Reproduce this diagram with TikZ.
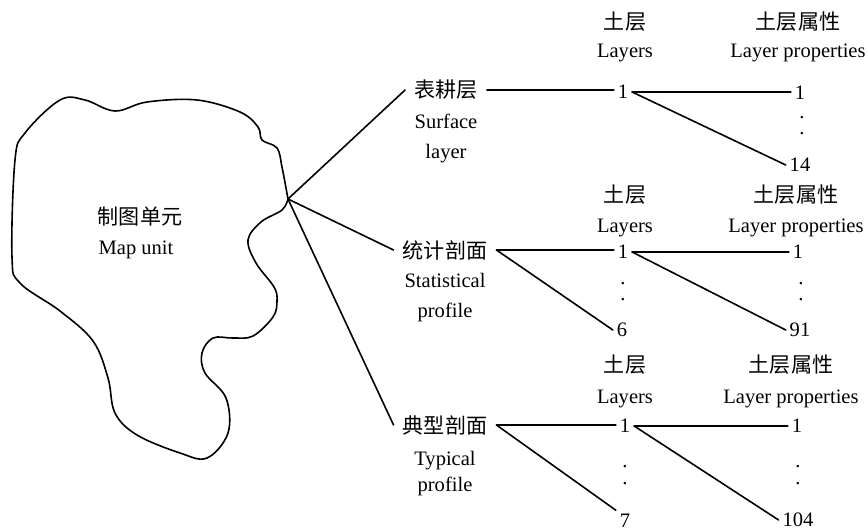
\documentclass[tikz,border=0pt]{standalone}
\usepackage{fontspec}
\setmainfont{Liberation Serif}
\newfontfamily\cjk{Noto Sans CJK SC}
\begin{document}
\begin{tikzpicture}[x=0.75pt,y=-0.75pt,
  lat/.style={font=\fontsize{15.4}{18}\selectfont, inner sep=0pt, anchor=base},
  zh/.style={font=\cjk\fontsize{15.8}{18}\selectfont, inner sep=0pt},
  cat/.style={zh, outer sep=7pt},
  num/.style={font=\fontsize{15.4}{18}\selectfont, inner sep=0pt, outer sep=3pt},
  dotn/.style={font=\fontsize{15.4}{12.6}\selectfont, inner sep=0pt, align=center},
  ln/.style={line width=1.2pt, line cap=round, line join=round}]
\useasboundingbox (0,0) rectangle (868,531);

% map unit outline
\coordinate (tip) at (288,199);
\draw[ln] plot[smooth, tension=0.6] coordinates {(288,199) (282,210) (261,222) (248,240) (256,263) (274,287) (277,301) (273,317) (253,336) (233,338) (213,338) (202,353) (205,373) (226,398) (228,433) (207,458) (180,453) (137,435) (115,413) (108,378) (93,341) (60,311) (20,283) (12,257) (15,160) (25,133) (60,100) (85,100) (115,111) (147,102) (197,100) (240,112) (258,127) (262,140) (277,148) (282,167) (288,199)};
\node[zh] (mu) at (140,217) {制图单元};
\node[lat] (mue) at (136,255) {Map unit};

% categories
\node[cat] (s1) at (446,90) {表耕层};
\node[lat] (s1a) at (446,129) {Surface};
\node[lat] (s1b) at (446,159) {layer};
\node[cat] (s2) at (445,250) {统计剖面};
\node[lat] (s2a) at (445,287) {Statistical};
\node[lat] (s2b) at (445,317) {profile};
\node[cat] (s3) at (445,425) {典型剖面};
\node[lat] (s3a) at (445,465) {Typical};
\node[lat] (s3b) at (445,491) {profile};

\draw[ln] (tip) -- (s1.west);
\draw[ln] (tip) -- (s2.west);
\draw[ln] (tip) -- (s3.west);

% headers
\node[zh] (h1a) at (625,22) {土层};
\node[lat] (h1b) at (625,58) {Layers};
\node[zh] (h1c) at (798,22) {土层属性};
\node[lat] (h1d) at (798,58) {Layer properties};
\node[zh] (h2a) at (625,195) {土层};
\node[lat] (h2b) at (625,233) {Layers};
\node[zh] (h2c) at (796,195) {土层属性};
\node[lat] (h2d) at (796,233) {Layer properties};
\node[zh] (h3a) at (625,365) {土层};
\node[lat] (h3b) at (625,403) {Layers};
\node[zh] (h3c) at (791,365) {土层属性};
\node[lat] (h3d) at (791,403) {Layer properties};

% group 1
\node[num] (l1a) at (623,92) {1};
\node[num] (p1a) at (800,93) {1};
\node[dotn] (d1) at (802,125.5) {.\\.};
\node[num] (p14) at (800,165) {14};
\draw[ln] (s1.east) -- (s1.east -| l1a.west);
\draw[ln] (l1a.east) -- (l1a.east -| p1a.west);
\draw[ln] (l1a.east) -- (p14.west);

% group 2
\node[num] (l1b) at (623,252) {1};
\node[dotn] (d2) at (623,291.5) {.\\.};
\node[num] (l6) at (622,330) {6};
\node[num] (p1b) at (798,252) {1};
\node[dotn] (d2b) at (801,291.5) {.\\.};
\node[num] (p91) at (800,330) {91};
\draw[ln] (s2.east) -- (s2.east -| l1b.west);
\draw[ln] (s2.east) -- (l6.west);
\draw[ln] (l1b.east) -- (l1b.east -| p1b.west);
\draw[ln] (l1b.east) -- (p91.west);

% group 3
\node[num] (l1c) at (625,426) {1};
\node[dotn] (d3) at (625,475) {.\\.};
\node[num] (l7) at (625,521) {7};
\node[num] (p1c) at (797,426) {1};
\node[dotn] (d3b) at (798,475) {.\\.};
\node[num] (p104) at (798,520) {104};
\draw[ln] (s3.east) -- (s3.east -| l1c.west);
\draw[ln] (s3.east) -- (l7.north west);
\draw[ln] (l1c.east) -- (l1c.east -| p1c.west);
\draw[ln] (l1c.east) -- (p104.west);
\end{tikzpicture}
\end{document}
